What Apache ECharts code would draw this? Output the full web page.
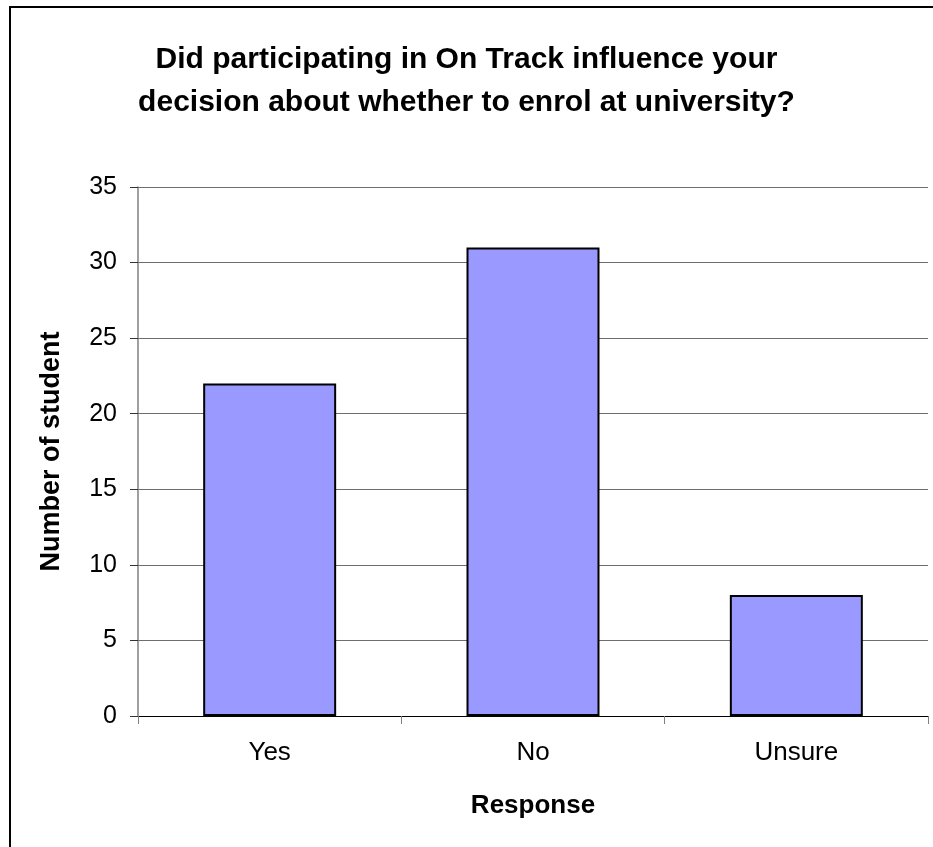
<!DOCTYPE html>
<html>
<head>
<meta charset="utf-8">
<script src="https://cdn.jsdelivr.net/npm/echarts@6/dist/echarts.min.js"></script>
<style>
  html, body { margin: 0; padding: 0; background: #ffffff; }
  #chart { width: 933px; height: 847px; }
</style>
</head>
<body>
<div id="chart"></div>
<script>
// Survey responses: number of students per answer
const categories = ['Yes', 'No', 'Unsure'];
const studentCounts = [22, 31, 8];
const yTicks = { min: 0, max: 35, interval: 5 };

const FONT = '"Liberation Sans", Arial, Helvetica, sans-serif';

const chart = echarts.init(document.getElementById('chart'), null, { renderer: 'canvas' });

chart.setOption({
  backgroundColor: '#ffffff',
  animation: false,
  title: {
    text: 'Did participating in On Track influence your\ndecision about whether to enrol at university?',
    left: 'center',
    top: 33,
    textStyle: {
      fontFamily: FONT,
      fontSize: 30,
      fontWeight: 'bold',
      color: '#000000',
      lineHeight: 43
    }
  },
  // Frame around the whole chart area
  graphic: [{
    type: 'rect',
    shape: { x: 10, y: 7, width: 1000, height: 1000 },
    style: { fill: 'none', stroke: '#000000', lineWidth: 2 },
    silent: true,
    z: 100
  }],
  grid: {
    left: 138,
    right: 5,
    top: 187,
    bottom: 131,
    containLabel: false
  },
  xAxis: {
    type: 'category',
    data: categories,
    name: 'Response',
    nameLocation: 'middle',
    nameGap: 77,
    nameTextStyle: {
      fontFamily: FONT,
      fontSize: 26,
      fontWeight: 'bold',
      color: '#000000'
    },
    axisLine: { show: true, lineStyle: { color: '#000000', width: 1 } },
    axisTick: { show: true, alignWithLabel: false, length: 8, lineStyle: { color: '#808080', width: 1 } },
    axisLabel: {
      margin: 24,
      fontFamily: FONT,
      fontSize: 26,
      color: '#000000'
    },
    splitLine: { show: false }
  },
  yAxis: {
    type: 'value',
    min: yTicks.min,
    max: yTicks.max,
    interval: yTicks.interval,
    name: 'Number of students',
    nameLocation: 'middle',
    nameGap: 73,
    nameRotate: 90,
    // the axis title is clipped by the chart's label area
    nameTruncate: { maxWidth: 242, ellipsis: '' },
    nameTextStyle: {
      fontFamily: FONT,
      fontSize: 27,
      fontWeight: 'bold',
      color: '#000000'
    },
    axisLine: { show: true, lineStyle: { color: '#808080', width: 1.5 } },
    axisTick: { show: true, length: 8, lineStyle: { color: '#333333', width: 1 } },
    axisLabel: {
      margin: 21,
      fontFamily: FONT,
      fontSize: 25,
      color: '#000000'
    },
    splitLine: { show: true, lineStyle: { color: '#6e6e6e', width: 1 } }
  },
  series: [{
    type: 'bar',
    data: studentCounts,
    barWidth: '50.5%',
    itemStyle: {
      color: '#9999ff',
      borderColor: '#000000',
      borderWidth: 2
    },
    z: 3
  }]
});
</script>
</body>
</html>
